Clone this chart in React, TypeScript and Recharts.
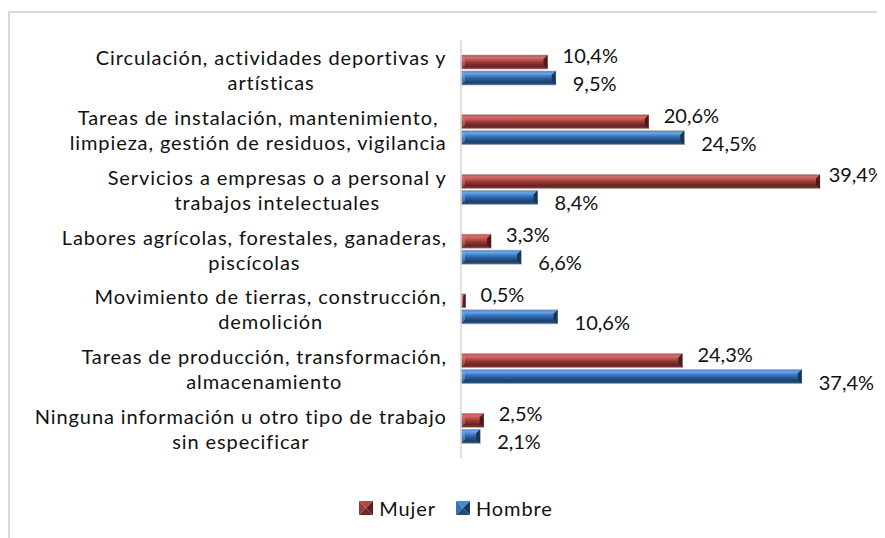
import React from 'react';
import { BarChart, Bar, XAxis, YAxis, LabelList } from 'recharts';

const categories = [
  'Circulación, actividades deportivas y\nartísticas',
  'Tareas de instalación, mantenimiento,\nlimpieza, gestión de residuos, vigilancia',
  'Servicios a empresas o a personal y\ntrabajos intelectuales',
  'Labores agrícolas, forestales, ganaderas,\npiscícolas',
  'Movimiento de tierras, construcción,\ndemolición',
  'Tareas de producción, transformación,\nalmacenamiento',
  'Ninguna información u otro tipo de trabajo\nsin especificar',
];
const mujer = [9.5, 20.6, 39.4, 3.3, 0.5, 24.3, 2.5];
const hombre = [10.4, 24.5, 8.4, 6.6, 10.6, 37.4, 2.1];
const mujerLabels = ['10,4%', '20,6%', '39,4%', '3,3%', '0,5%', '24,3%', '2,5%'];
const hombreLabels = ['9,5%', '24,5%', '8,4%', '6,6%', '10,6%', '37,4%', '2,1%'];
const seriesNames = ['Mujer', 'Hombre'];

const data = categories.map((name, i) => ({ name, mujer: mujer[i], hombre: hombre[i] }));

const CHART_W = 875;
const FONT_FAMILY = 'Lato, "Noto Sans", sans-serif';
const FONT_SIZE = 20;
const LETTER_SP = 0.9;
const TEXT_COLOR = '#111111';

let ctx: CanvasRenderingContext2D | null = null;
const measureRaw = (t: string) => {
  if (!ctx) ctx = document.createElement('canvas').getContext('2d');
  if (!ctx) return t.length * 10;
  ctx.font = `${FONT_SIZE}px Lato`;
  return ctx.measureText(t).width;
};
const measure = (t: string) => measureRaw(t) + LETTER_SP * t.length;

const CatTick = (props: any) => {
  const { x, y, payload } = props;
  const lines = String(payload.value).split('\n');
  const W = Math.max(...lines.map(measure));
  const cx = x - W / 2;
  const lh = 25;
  const start = y - ((lines.length - 1) * lh) / 2;
  return (
    <g>
      {lines.map((l, i) => (
        <text key={i} x={cx} y={start + i * lh} textAnchor="middle" dominantBaseline="central"
          fontFamily={FONT_FAMILY} fontSize={FONT_SIZE} letterSpacing={LETTER_SP} fill={TEXT_COLOR}>{l}</text>
      ))}
    </g>
  );
};

const palettes: any = {
  red: { grad: 'gradRed', end: '#4e1b1a', start: '#d98683' },
  blue: { grad: 'gradBlue', end: '#183456', start: '#7fb4ec' },
};

const BevelBar = (props: any) => {
  const { x, y, width, height, kind } = props;
  if (!width || width <= 0) return null;
  const c = palettes[kind];
  const b = Math.min(4, width / 2, height / 3);
  return (
    <g>
      <rect x={x} y={y} width={width} height={height} fill={`url(#${c.grad})`} stroke="#a8a8a8" strokeWidth={0.6} />
      <polygon points={`${x},${y} ${x + b},${y + b} ${x + b},${y + height - b} ${x},${y + height}`} fill={c.start} opacity={0.45} />
      <polygon points={`${x + width - b},${y + b} ${x + width},${y} ${x + width},${y + height} ${x + width - b},${y + height - b}`} fill={c.end} />
    </g>
  );
};

const ValLabel = (props: any) => {
  const { x, y, width, height, index, labels, dx, dy } = props;
  const text = labels[index];
  const w = measureRaw(text);
  const lx = Math.min(x + width + dx, CHART_W - w - 1);
  return (
    <text x={lx} y={y + height / 2 + dy} dominantBaseline="central" textAnchor="start"
      fontFamily={FONT_FAMILY} fontSize={FONT_SIZE} fill={TEXT_COLOR}>{text}</text>
  );
};

const LegendIcon = ({ kind }: { kind: string }) => {
  const cols = kind === 'red'
    ? { t: '#b04744', l: '#9a3b39', r: '#5a1f1e', b: '#6e2826' }
    : { t: '#4a8ad0', l: '#3572b5', r: '#173a62', b: '#1f4a7a' };
  return (
    <svg width={14} height={14} style={{ display: 'block' }}>
      <polygon points="0,0 14,0 7,7" fill={cols.t} />
      <polygon points="0,0 7,7 0,14" fill={cols.l} />
      <polygon points="14,0 14,14 7,7" fill={cols.r} />
      <polygon points="0,14 7,7 14,14" fill={cols.b} />
    </svg>
  );
};

export default function App() {
  return (
    <div style={{ position: 'relative', top: 3, width: 890, height: 540, borderTop: '2px solid #d9d9d9', borderLeft: '2px solid #d9d9d9', fontFamily: FONT_FAMILY }}>
      <style>{'html,body{overflow:hidden}'}</style>
      <BarChart width={CHART_W} height={515} data={data} layout="vertical"
        margin={{ top: 27, right: 14, bottom: 70, left: 0 }} barSize={14} barGap={2}>
        <defs>
          <linearGradient id="gradRed" x1="0" y1="0" x2="0" y2="1">
            <stop offset="0" stopColor="#b84d4a" />
            <stop offset="0.18" stopColor="#d2706c" />
            <stop offset="0.35" stopColor="#c0524f" />
            <stop offset="0.55" stopColor="#933735" />
            <stop offset="0.8" stopColor="#662523" />
            <stop offset="1" stopColor="#8a3531" />
          </linearGradient>
          <linearGradient id="gradBlue" x1="0" y1="0" x2="0" y2="1">
            <stop offset="0" stopColor="#4886cf" />
            <stop offset="0.18" stopColor="#67a5e5" />
            <stop offset="0.35" stopColor="#407fc7" />
            <stop offset="0.55" stopColor="#2b5e9a" />
            <stop offset="0.8" stopColor="#1c406c" />
            <stop offset="1" stopColor="#2c5c91" />
          </linearGradient>
        </defs>
        <XAxis type="number" domain={[0, 45]} hide />
        <YAxis type="category" dataKey="name" width={451} tickLine={false} tickSize={0} tickMargin={14}
          interval={0} axisLine={{ stroke: '#d6d6d6', strokeWidth: 1.5 }} tick={<CatTick />} />
        <Bar dataKey="mujer" name={seriesNames[0]} isAnimationActive={false}
          shape={(p: any) => <BevelBar {...p} kind="red" />}>
          <LabelList dataKey="mujer" content={(p: any) => <ValLabel {...p} labels={mujerLabels} dx={15} dy={-7} />} />
        </Bar>
        <Bar dataKey="hombre" name={seriesNames[1]} isAnimationActive={false}
          shape={(p: any) => <BevelBar {...p} kind="blue" />}>
          <LabelList dataKey="hombre" content={(p: any) => <ValLabel {...p} labels={hombreLabels} dx={17} dy={5} />} />
        </Bar>
      </BarChart>
      <div style={{ position: 'absolute', left: 0, top: 483, width: 892, height: 24, display: 'flex', justifyContent: 'center', alignItems: 'center', fontSize: FONT_SIZE, letterSpacing: LETTER_SP, color: TEXT_COLOR }}>
        <div style={{ display: 'flex', alignItems: 'center', marginRight: 20 }}>
          <LegendIcon kind="red" /><span style={{ marginLeft: 6 }}>{seriesNames[0]}</span>
        </div>
        <div style={{ display: 'flex', alignItems: 'center' }}>
          <LegendIcon kind="blue" /><span style={{ marginLeft: 6 }}>{seriesNames[1]}</span>
        </div>
      </div>
    </div>
  );
}
